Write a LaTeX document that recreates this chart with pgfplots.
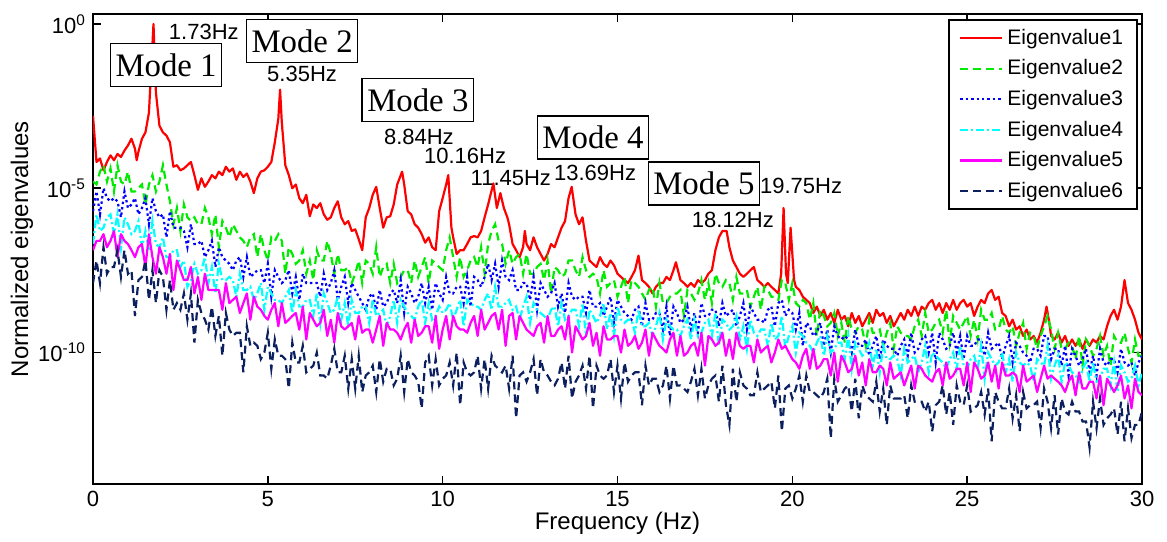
\documentclass[border=0pt]{standalone}
\usepackage{fontspec}
\setmainfont{Liberation Sans}
\newfontfamily\modefont{Liberation Serif}
\usepackage{pgfplots}
\pgfplotsset{compat=1.18}
\usepackage{pgfplotstable}

\definecolor{evred}{RGB}{255,0,0}
\definecolor{evgreen}{RGB}{0,235,0}
\definecolor{evblue}{RGB}{0,0,255}
\definecolor{evcyan}{RGB}{0,255,255}
\definecolor{evmagenta}{RGB}{255,0,255}
\definecolor{evnavy}{RGB}{12,32,96}

% first eigenvalue spectrum
\pgfplotstableread{
f e1
0.0 1.6e-3
0.1 6.3e-5
0.2 8e-5
0.3 3.5e-5
0.4 6.3e-5
0.5 1e-4
0.6 7.1e-5
0.7 1.1e-4
0.8 8.9e-5
0.9 1.4e-4
1.0 2e-4
1.1 3.2e-4
1.2 1.6e-4
1.25 7.1e-5
1.3 1.3e-4
1.4 3.2e-4
1.5 5e-4
1.6 2e-3
1.73 1
1.8 8e-3
1.9 8e-4
2.0 5e-4
2.1 4e-4
2.2 2.5e-4
2.3 4.5e-5
2.4 5e-5
2.5 3.5e-5
2.6 4e-5
2.7 5e-5
2.8 6.3e-5
2.9 2.5e-5
3.0 8.9e-6
3.1 2e-5
3.2 1.1e-5
3.3 1.6e-5
3.4 2.5e-5
3.5 2e-5
3.6 3.2e-5
3.7 2.5e-5
3.8 4.5e-5
3.9 3.2e-5
4.0 4e-5
4.1 1.8e-5
4.2 3.2e-5
4.3 2.2e-5
4.4 2.8e-5
4.5 1.6e-5
4.6 7.1e-6
4.7 2e-5
4.8 3.2e-5
4.9 3.5e-5
5.0 4.5e-5
5.1 6.3e-5
5.2 2.5e-4
5.3 1.3e-3
5.35 1e-2
5.4 1e-3
5.5 5e-5
5.6 2.5e-5
5.7 1e-5
5.8 1.3e-5
5.9 5e-6
6.0 3.5e-6
6.1 6.3e-6
6.2 1.4e-6
6.3 3.2e-6
6.4 2.5e-6
6.5 3.5e-6
6.6 1.6e-6
6.7 1.1e-6
6.8 1.3e-6
6.9 2.5e-6
7.0 4e-6
7.1 1.3e-6
7.2 8e-7
7.3 1e-6
7.4 5e-7
7.5 5.6e-7
7.6 2.8e-7
7.7 1.3e-7
7.8 1.3e-6
7.9 2.5e-6
8.0 6.3e-6
8.1 1.1e-5
8.2 2.5e-6
8.3 6.3e-7
8.4 1.3e-6
8.5 1.4e-6
8.6 3.2e-6
8.7 1.3e-5
8.84 3.2e-5
8.9 1.3e-5
9.0 2e-6
9.1 1.6e-6
9.2 8e-7
9.3 6.3e-7
9.4 4e-7
9.5 2.2e-7
9.6 3.2e-7
9.7 1.6e-7
9.8 1.3e-7
9.9 2e-6
10.0 5e-6
10.1 1.3e-5
10.16 2.5e-5
10.25 6.3e-7
10.3 3.2e-7
10.4 1e-7
10.5 1.3e-7
10.6 1.3e-7
10.7 2e-7
10.8 3.2e-7
10.9 3.5e-7
11.0 3.2e-7
11.1 5e-7
11.2 1.3e-6
11.3 3.2e-6
11.45 1.4e-5
11.55 2.5e-6
11.65 7.1e-6
11.75 2.5e-6
11.85 1.3e-6
11.9 8e-7
12.0 2e-7
12.1 1.3e-7
12.2 8e-8
12.3 1.6e-7
12.35 5e-7
12.4 2e-7
12.5 1.3e-7
12.6 3.2e-7
12.7 1.6e-7
12.8 1e-7
12.9 6.3e-8
13.0 1e-7
13.1 2e-7
13.2 1.6e-7
13.3 3.2e-7
13.4 6.3e-7
13.5 1e-6
13.6 5e-6
13.69 1.1e-5
13.8 1.6e-6
13.9 8e-7
14.0 1.3e-6
14.1 2.5e-7
14.2 6.3e-8
14.3 5e-8
14.4 4e-8
14.5 8e-8
14.6 5e-8
14.7 4e-8
14.8 6.3e-8
14.9 4.5e-8
15.0 2.5e-8
15.1 2e-8
15.2 1.6e-8
15.3 1.3e-8
15.4 2e-8
15.5 3.2e-8
15.6 8.9e-8
15.7 1.6e-8
15.8 1.3e-8
15.9 1e-8
16.0 6.3e-9
16.1 1e-8
16.2 1.3e-8
16.3 1.3e-8
16.4 2e-8
16.5 1.6e-8
16.6 3.2e-8
16.67 5.6e-8
16.8 1.6e-8
16.9 1.3e-8
17.0 1e-8
17.1 1.3e-8
17.2 1e-8
17.3 1.6e-8
17.4 1.3e-8
17.5 1.6e-8
17.6 2.5e-8
17.7 3.2e-8
17.8 1.3e-7
17.9 3.2e-7
18.0 5e-7
18.12 5e-7
18.2 1.6e-7
18.3 6.3e-8
18.4 4e-8
18.5 2.5e-8
18.6 2e-8
18.7 2.5e-8
18.8 3.2e-8
18.9 4e-8
19.0 1.6e-8
19.1 1.3e-8
19.2 1e-8
19.3 1.3e-8
19.4 1e-8
19.5 8e-9
19.6 6.3e-9
19.68 2.5e-8
19.75 2.5e-6
19.82 2.5e-8
19.87 1.3e-8
19.95 6.3e-7
20.05 1.6e-8
20.1 1e-8
20.2 8e-9
20.3 5e-9
20.4 4e-9
20.5 3.2e-9
20.6 1.6e-9
20.7 2.5e-9
20.8 1.3e-9
20.9 2e-9
21.0 1e-9
21.1 1.6e-9
21.2 8e-10
21.3 2e-9
21.4 1e-9
21.5 1.3e-9
21.6 6.3e-10
21.7 1.6e-9
21.8 8e-10
21.9 1.3e-9
22.0 6.3e-10
22.1 1e-9
22.2 1.6e-9
22.3 8e-10
22.4 2e-9
22.5 1.3e-9
22.6 1.6e-9
22.7 8e-10
22.8 1.3e-9
22.9 6.3e-10
23.0 1e-9
23.1 1.6e-9
23.2 1e-9
23.3 2e-9
23.4 1.3e-9
23.5 2.5e-9
23.6 1.3e-9
23.7 2.5e-9
23.8 2e-9
23.9 3.2e-9
24.0 4e-9
24.1 2e-9
24.2 3.2e-9
24.3 1.6e-9
24.4 3.2e-9
24.5 2e-9
24.6 4e-9
24.7 2e-9
24.8 3.2e-9
24.9 4e-9
25.0 2.5e-9
25.1 3.2e-9
25.2 1.3e-9
25.3 2.5e-9
25.4 4e-9
25.5 3.2e-9
25.6 6.3e-9
25.7 8e-9
25.8 4e-9
25.9 5e-9
26.0 1.6e-9
26.1 1.3e-9
26.2 6.3e-10
26.3 1e-9
26.4 5e-10
26.5 6.3e-10
26.6 3.2e-10
26.7 5e-10
26.8 2.5e-10
26.9 3.2e-10
27.0 2e-10
27.1 4e-10
27.2 1e-9
27.27 2.5e-9
27.35 8e-10
27.4 3.2e-10
27.5 2.5e-10
27.6 4e-10
27.7 2e-10
27.8 3.2e-10
27.9 1.6e-10
28.0 2.5e-10
28.1 1.6e-10
28.2 2.5e-10
28.3 1.3e-10
28.4 2.5e-10
28.5 1.6e-10
28.6 2.5e-10
28.7 2e-10
28.8 3.2e-10
28.9 2.5e-10
29.0 6.3e-10
29.1 1.3e-9
29.2 2e-9
29.3 1e-9
29.4 2.5e-9
29.5 1.6e-8
29.6 3.2e-9
29.7 2e-9
29.8 1e-9
29.9 4e-10
30.0 2.5e-10
}\firsttable

% eigenvalues 2 to 6
\pgfplotstableread{
f e2 e3 e4 e5 e6
0.0 1.6e-5 2e-6 2e-7 1.3e-7 1.3e-8
0.1 1.3e-5 8e-6 1.6e-6 2.5e-7 6.3e-8
0.2 3.2e-5 1.6e-6 5e-7 2.5e-7 1.3e-8
0.3 5e-5 1e-5 6.3e-7 4e-7 1.6e-7
0.4 1.6e-5 5e-6 1.3e-6 1.6e-7 2.5e-8
0.5 4e-5 4e-6 1.6e-6 2.5e-7 4e-8
0.6 8e-6 5e-6 4e-7 5e-7 4e-8
0.7 5e-5 4e-6 1.6e-6 8e-8 1.3e-7
0.8 1.6e-5 1.3e-6 1.6e-7 4e-7 2e-8
0.9 1.3e-5 8e-6 1.3e-6 2.5e-7 1.3e-7
1.0 3.2e-5 2.5e-6 8e-7 2e-7 2.5e-8
1.1 8e-6 3.2e-6 4e-7 1.3e-7 3.2e-8
1.2 8e-6 5e-6 5e-7 8e-8 1.3e-9
1.3 1e-5 1.6e-6 1e-6 1.6e-7 1.6e-8
1.4 1.3e-5 2.5e-6 1.6e-7 2e-7 2e-8
1.5 3.2e-6 5e-6 5e-7 4e-8 6.3e-8
1.6 1.3e-5 8e-7 1.3e-7 4e-7 4e-9
1.7 2.5e-5 5e-6 1e-6 8e-8 3.2e-8
1.8 8e-6 2e-6 2e-7 2.5e-8 3.2e-9
1.9 1.6e-5 1.3e-6 1.6e-7 1.6e-7 3.2e-8
2.0 5e-5 1.6e-6 3.2e-7 8e-8 2e-8
2.1 1.3e-5 3.2e-7 8e-8 2.5e-8 2e-9
2.2 4e-6 2e-6 8e-8 1e-7 1.6e-8
2.3 8e-7 6.3e-7 1.3e-7 8e-9 2e-9
2.4 2.5e-6 6.3e-7 1.3e-7 6.3e-8 3.2e-9
2.5 5e-7 6.3e-7 4e-8 3.2e-8 2e-9
2.6 3.2e-6 5e-7 6.3e-8 1.6e-8 6.3e-9
2.7 1.3e-6 1.6e-7 1e-8 1.6e-8 1e-9
2.8 1e-6 8e-7 1.6e-8 4e-8 6.3e-9
2.9 1.3e-6 2e-7 5e-8 6.3e-9 2e-10
3.0 8e-7 2e-7 2.5e-8 2e-8 4e-9
3.1 8e-7 2.5e-7 3.2e-8 4e-9 1.6e-9
3.2 2.5e-6 8e-8 8e-8 2.5e-8 1e-9
3.3 1.3e-6 1.3e-7 1.3e-8 8e-9 5e-10
3.4 4e-7 2.5e-7 4e-8 8e-9 2.5e-9
3.5 1.6e-6 4e-8 6.3e-9 8e-9 3.2e-10
3.6 1.6e-7 1.6e-7 5e-8 8e-9 1.3e-9
3.7 1e-6 8e-8 1.6e-8 2e-9 8e-11
3.8 6.3e-7 6.3e-8 1.6e-8 1.3e-8 1.6e-9
3.9 3.2e-7 5e-8 2e-8 3.2e-9 5e-10
4.0 8e-7 3.2e-8 1.6e-8 4e-9 3.2e-10
4.1 5e-7 6.3e-8 5e-9 5e-9 4e-10
4.2 3.2e-7 8e-8 2.5e-8 1.6e-9 4e-10
4.3 2.5e-7 2e-8 8e-9 3.2e-9 2.5e-11
4.4 1.6e-7 8e-8 8e-9 6.3e-9 6.3e-10
4.5 3.2e-7 2e-8 1e-8 1e-9 1.6e-10
4.6 4e-7 2.5e-8 4e-9 5e-9 2e-10
4.7 8e-8 3.2e-8 6.3e-9 2.5e-9 1.6e-10
4.8 4e-7 3.2e-8 1.3e-8 2e-9 6.3e-11
4.9 1.3e-7 1.3e-8 2e-9 1.3e-9 1e-10
5.0 6.3e-8 5e-8 1e-8 1e-9 4e-10
5.1 3.2e-7 5e-9 6.3e-9 2e-9 3.2e-11
5.2 2.5e-7 3.2e-8 4e-9 3.2e-9 2.5e-10
5.3 4e-7 2e-8 4e-9 6.3e-10 8e-11
5.4 2.5e-7 1.3e-8 3.2e-9 3.2e-9 8e-11
5.5 2.5e-8 1.6e-8 5e-9 8e-10 6.3e-11
5.6 1.6e-7 3.2e-8 8e-9 1e-9 8e-12
5.7 1e-7 6.3e-9 1.6e-9 1.3e-9 2e-10
5.8 5e-8 2e-8 8e-9 1.6e-9 5e-11
5.9 6.3e-8 4e-9 2.5e-9 5e-10 5e-11
6.0 1.3e-7 2.5e-8 2.5e-9 2.5e-9 1.6e-10
6.1 2.5e-8 1.3e-8 4e-9 2.5e-10 2.5e-11
6.2 6.3e-8 1.3e-8 4e-9 1.6e-9 3.2e-11
6.3 1.6e-8 1.3e-8 1.3e-9 1e-9 4e-11
6.4 1.3e-7 1.3e-8 6.3e-9 6.3e-10 1e-10
6.5 6.3e-8 5e-9 8e-10 8e-10 2e-11
6.6 6.3e-8 2.5e-8 6.3e-9 2e-9 2e-11
6.7 2.5e-7 8e-9 3.2e-9 3.2e-10 1.6e-11
6.8 1e-7 1.3e-8 1.6e-9 1e-9 4e-11
6.9 2.5e-8 3.2e-8 2e-9 2e-10 1.3e-10
7.0 1e-7 4e-9 5e-9 1.6e-9 2.5e-11
7.1 3.2e-8 1e-8 1e-9 6.3e-10 2.5e-11
7.2 3.2e-8 2e-8 3.2e-9 5e-10 8e-11
7.3 4e-8 3.2e-9 6.3e-10 6.3e-10 8e-12
7.4 1.3e-8 1.3e-8 4e-9 8e-10 6.3e-11
7.5 2.5e-8 8e-9 1.6e-9 2.5e-10 8e-12
7.6 6.3e-8 5e-9 1.6e-9 1.3e-9 8e-11
7.7 1.3e-8 3.2e-9 2.5e-9 4e-10 6.3e-12
7.8 6.3e-8 2e-9 2.5e-9 5e-10 2e-11
7.9 5e-8 5e-9 8e-10 5e-10 2.5e-11
8.0 2.5e-8 6.3e-9 4e-9 2e-10 4e-11
8.1 1.6e-7 2e-9 1.3e-9 5e-10 6.3e-12
8.2 2e-8 8e-9 1.6e-9 1.3e-9 6.3e-11
8.3 4e-8 2.5e-9 2e-9 1.6e-10 1.3e-11
8.4 5e-8 3.2e-9 6.3e-10 8e-10 3.2e-11
8.5 1.3e-8 6.3e-9 1.3e-9 5e-10 3.2e-11
8.6 5e-8 8e-9 4e-9 5e-10 1e-11
8.7 1.3e-8 3.2e-9 8e-10 4e-10 1.6e-11
8.8 2e-8 1.6e-8 4e-9 2.5e-10 8e-11
8.9 3.2e-8 1.6e-9 2.5e-9 5e-10 6.3e-12
9.0 3.2e-8 1e-8 1.6e-9 8e-10 6.3e-11
9.1 1.3e-8 6.3e-9 1.3e-9 2e-10 2.5e-11
9.2 6.3e-8 3.2e-9 1e-9 1e-9 2e-11
9.3 2e-8 5e-9 2.5e-9 3.2e-10 1.3e-11
9.4 4e-8 1.3e-8 4e-9 4e-10 2e-12
9.5 8e-8 3.2e-9 8e-10 6.3e-10 5e-11
9.6 1.3e-8 1e-8 3.2e-9 6.3e-10 8e-11
9.7 6.3e-8 2e-9 1e-9 2e-10 1e-11
9.8 5e-8 1.3e-8 1.3e-9 1.3e-9 6.3e-11
9.9 4e-8 6.3e-9 2.5e-9 1.3e-10 1e-11
10.0 3.2e-8 4e-9 1.6e-9 5e-10 1.6e-11
10.1 1.3e-7 2e-8 2e-9 1.3e-9 2e-11
10.2 3.2e-7 6.3e-9 3.2e-9 2.5e-10 5e-11
10.3 8e-8 6.3e-9 1e-9 1.3e-9 1e-11
10.4 2e-8 1e-8 2e-9 6.3e-10 1e-10
10.5 8e-8 1e-8 4e-9 5e-10 2.5e-12
10.6 2e-8 3.2e-9 6.3e-10 5e-10 5e-11
10.7 3.2e-8 2e-8 4e-9 4e-10 2.5e-11
10.8 6.3e-8 2.5e-9 3.2e-9 8e-10 2e-11
10.9 8e-8 2e-8 2.5e-9 1.3e-9 2.5e-11
11.0 4e-8 1.6e-8 2.5e-9 3.2e-10 8e-11
11.1 1.6e-7 1e-8 2e-9 2e-9 8e-12
11.2 2.5e-8 2e-8 4e-9 5e-10 6.3e-11
11.3 2e-7 5e-8 6.3e-9 8e-10 8e-12
11.4 5e-7 1.6e-8 2e-9 1.3e-9 8e-11
11.5 8e-7 5e-8 1e-8 1.6e-9 4e-11
11.6 2.5e-7 1e-8 2.5e-9 5e-10 3.2e-11
11.7 2e-7 6.3e-8 2.5e-9 2e-9 2.5e-11
11.8 5e-8 2e-8 3.2e-9 1.6e-10 4e-11
11.9 1.3e-7 1.6e-8 4e-9 1.3e-9 8e-12
12.0 5e-8 3.2e-8 2e-9 1.6e-9 8e-11
12.1 8e-8 8e-9 2.5e-9 2.5e-10 1e-12
12.2 1e-7 8e-9 1e-9 1.3e-9 2e-11
12.3 2.5e-8 1.3e-8 2.5e-9 8e-10 2.5e-11
12.4 1e-7 1.3e-8 5e-9 5e-10 1.3e-11
12.5 2.5e-8 4e-9 8e-10 4e-10 2.5e-11
12.6 2.5e-8 2e-8 3.2e-9 3.2e-10 6.3e-11
12.7 4e-8 2e-9 2e-9 6.3e-10 5e-12
12.8 5e-8 1.3e-8 1.6e-9 8e-10 6.3e-11
12.9 1.6e-8 8e-9 1.3e-9 2e-10 2.5e-11
13.0 6.3e-8 5e-9 1e-9 1.3e-9 2e-11
13.1 6.3e-9 6.3e-9 2e-9 3.2e-10 1.3e-11
13.2 4e-8 1.3e-8 2.5e-9 3.2e-10 1e-11
13.3 3.2e-8 2.5e-9 6.3e-10 5e-10 1.6e-11
13.4 2e-8 6.3e-9 3.2e-9 6.3e-10 5e-11
13.5 2.5e-8 1.6e-9 1e-9 2.5e-10 8e-12
13.6 6.3e-8 1.3e-8 1.3e-9 1.3e-9 8e-11
13.7 6.3e-8 5e-9 2e-9 1e-10 4e-12
13.8 3.2e-8 4e-9 2e-9 6.3e-10 1.3e-11
13.9 2e-8 5e-9 6.3e-10 4e-10 2e-11
14.0 8e-8 5e-9 3.2e-9 2.5e-10 4e-11
14.1 3.2e-8 1.6e-9 3.2e-10 3.2e-10 8e-12
14.2 2e-8 8e-9 2e-9 8e-10 8e-11
14.3 2.5e-8 2.5e-9 1.3e-9 1.6e-10 2e-12
14.4 2e-8 2.5e-9 8e-10 4e-10 4e-11
14.5 6.3e-9 3.2e-9 1.3e-9 8e-11 2e-11
14.6 3.2e-8 1.3e-9 3.2e-9 6.3e-10 1.6e-11
14.7 1e-8 2.5e-9 5e-10 2.5e-10 2e-11
14.8 1.3e-8 5e-9 1.6e-9 2.5e-10 6.3e-11
14.9 1.6e-8 8e-10 3.2e-10 3.2e-10 6.3e-12
15.0 5e-9 4e-9 2.5e-9 3.2e-10 4e-11
15.1 1e-8 2.5e-9 1e-9 1e-10 4e-12
15.2 2e-8 1.6e-9 8e-10 5e-10 5e-11
15.3 3.2e-9 1.3e-9 1e-9 1.6e-10 1.3e-11
15.4 1.6e-8 1e-9 1e-9 2e-10 2e-11
15.5 1.3e-8 2e-9 4e-10 3.2e-10 2.5e-11
15.6 1e-8 2.5e-9 2e-9 1.3e-10 2.5e-11
15.7 6.3e-9 6.3e-10 6.3e-10 2e-10 2.5e-12
15.8 4e-9 3.2e-9 6.3e-10 5e-10 4e-11
15.9 8e-9 1e-9 8e-10 8e-11 1e-11
16.0 1e-8 1e-9 3.2e-10 4e-10 1.6e-11
16.1 2.5e-9 1.6e-9 6.3e-10 2.5e-10 1.6e-11
16.2 1.3e-8 1.6e-9 1.6e-9 1.6e-10 6.3e-12
16.3 3.2e-9 5e-10 2.5e-10 1.3e-10 1e-11
16.4 3.2e-9 2.5e-9 1e-9 1e-10 4e-11
16.5 5e-9 3.2e-10 6.3e-10 2.5e-10 4e-12
16.6 6.3e-9 2.5e-9 5e-10 4e-10 4e-11
16.7 6.3e-9 1.6e-9 5e-10 8e-11 1e-11
16.8 8e-9 8e-10 3.2e-10 3.2e-10 1e-11
16.9 1.3e-9 1e-9 6.3e-10 8e-11 8e-12
17.0 8e-9 2.5e-9 1e-9 1e-10 6.3e-12
17.1 6.3e-9 5e-10 2.5e-10 1.6e-10 1.3e-11
17.2 4e-9 1.6e-9 1e-9 2e-10 3.2e-11
17.3 6.3e-9 4e-10 3.2e-10 8e-11 5e-12
17.4 1.6e-8 3.2e-9 4e-10 4e-10 3.2e-11
17.5 4e-9 1.3e-9 8e-10 4e-11 4e-12
17.6 1.3e-8 1.3e-9 1e-9 3.2e-10 1e-11
17.7 3.2e-9 2e-9 3.2e-10 2.5e-10 1.6e-11
17.8 2.5e-8 2e-9 1.6e-9 1.6e-10 2e-11
17.9 1.3e-8 6.3e-10 1.6e-10 2e-10 3.2e-12
18.0 1e-8 3.2e-9 1e-9 4e-10 4e-11
18.1 1.6e-8 1.3e-9 8e-10 8e-11 2.5e-12
18.2 1.3e-8 1.6e-9 5e-10 2.5e-10 6.3e-13
18.3 4e-9 2e-9 6.3e-10 6.3e-11 3.2e-11
18.4 2e-8 6.3e-10 1.3e-9 4e-10 3.2e-12
18.5 6.3e-9 1.3e-9 2.5e-10 1.6e-10 2.5e-11
18.6 6.3e-9 3.2e-9 6.3e-10 1.3e-10 1e-11
18.7 8e-9 5e-10 1.3e-10 1.6e-10 8e-12
18.8 2.5e-9 2.5e-9 1e-9 1.6e-10 5e-12
18.9 5e-9 1.6e-9 4e-10 5e-11 5e-12
19.0 1e-8 1e-9 3.2e-10 2.5e-10 2.5e-11
19.1 2e-9 1e-9 5e-10 1e-10 6.3e-12
19.2 1e-8 8e-10 5e-10 1.3e-10 8e-12
19.3 8e-9 2e-9 1.6e-10 1.6e-10 1e-11
19.4 5e-9 2.5e-9 8e-10 5e-11 1.3e-11
19.5 5e-9 6.3e-10 2.5e-10 1e-10 2e-12
19.6 4e-9 3.2e-9 3.2e-10 2.5e-10 2e-11
19.7 1.6e-8 4e-9 1.3e-9 1.3e-10 4e-13
19.8 1.3e-8 1.3e-9 1.3e-10 1.6e-10 8e-12
19.9 4e-9 2e-9 3.2e-10 1e-10 1e-11
20.0 1.3e-8 1.6e-9 6.3e-10 6.3e-11 4e-12
20.1 3.2e-9 5e-10 1e-10 5e-11 8e-12
20.2 2.5e-9 1.6e-9 4e-10 3.2e-11 2e-11
20.3 4e-9 1.6e-10 3.2e-10 8e-11 3.2e-12
20.4 3.2e-9 8e-10 2e-10 1.3e-10 2e-11
20.5 1e-9 6.3e-10 1.6e-10 3.2e-11 6.3e-12
20.6 3.2e-9 3.2e-10 1e-10 1.3e-10 6.3e-12
20.7 3.2e-10 4e-10 2e-10 3.2e-11 5e-12
20.8 2e-9 8e-10 3.2e-10 4e-11 4e-12
20.9 1.3e-9 1.6e-10 8e-11 6.3e-11 6.3e-12
21.0 6.3e-10 5e-10 3.2e-10 6.3e-11 1.6e-11
21.1 8e-10 1e-10 1e-10 2e-11 2.5e-13
21.2 1.6e-9 6.3e-10 1.3e-10 1e-10 1.6e-11
21.3 3.2e-10 3.2e-10 2e-10 1.3e-11 3.2e-12
21.4 8e-10 2.5e-10 2e-10 8e-11 5e-12
21.5 2e-10 3.2e-10 6.3e-11 5e-11 8e-12
21.6 1.3e-9 2.5e-10 3.2e-10 2.5e-11 1e-11
21.7 5e-10 1e-10 3.2e-11 3.2e-11 1.6e-12
21.8 4e-10 5e-10 2e-10 8e-11 1.6e-11
21.9 6.3e-10 1.6e-10 1.3e-10 2e-11 1e-12
22.0 5e-10 1.6e-10 8e-11 5e-11 1e-11
22.1 1.6e-10 2.5e-10 1e-10 1e-11 5e-12
22.2 1e-9 8e-11 2e-10 6.3e-11 4e-12
22.3 4e-10 1.6e-10 4e-11 2.5e-11 3.2e-12
22.4 4e-10 3.2e-10 1.3e-10 2.5e-11 1.3e-11
22.5 5e-10 6.3e-11 2.5e-11 4e-11 1.6e-12
22.6 1.6e-10 2.5e-10 1.6e-10 3.2e-11 8e-12
22.7 4e-10 1.6e-10 6.3e-11 1e-11 6.3e-13
22.8 8e-10 1.3e-10 6.3e-11 5e-11 1e-11
22.9 1.3e-10 1.3e-10 8e-11 1.6e-11 4e-12
23.0 6.3e-10 8e-11 6.3e-11 2e-11 4e-12
23.1 4e-10 1.6e-10 2e-11 2.5e-11 4e-12
23.2 3.2e-10 2.5e-10 1.3e-10 1e-11 5e-12
23.3 3.2e-10 8e-11 5e-11 2e-11 1e-12
23.4 2.5e-10 4e-10 6.3e-11 4e-11 1e-11
23.5 6.3e-10 1e-10 8e-11 8e-12 3.2e-12
23.6 1e-9 1.3e-10 2.5e-11 4e-11 3.2e-12
23.7 3.2e-10 2.5e-10 5e-11 3.2e-11 3.2e-12
23.8 1.6e-9 3.2e-10 1.6e-10 2e-11 1.6e-12
23.9 4e-10 1e-10 2.5e-11 1.6e-11 3.2e-12
24.0 5e-10 4e-10 1e-10 1.3e-11 4e-13
24.1 8e-10 5e-11 8e-11 2.5e-11 2.5e-12
24.2 1e-9 4e-10 6.3e-11 3.2e-11 3.2e-12
24.3 4e-10 2.5e-10 5e-11 1e-11 1e-11
24.4 2e-9 1.3e-10 3.2e-11 5e-11 1.3e-12
24.5 2e-10 1.6e-10 6.3e-11 1.6e-11 6.3e-12
24.6 1.3e-9 4e-10 1e-10 2e-11 6.3e-13
24.7 8e-10 1e-10 3.2e-11 3.2e-11 1e-11
24.8 5e-10 3.2e-10 1.6e-10 3.2e-11 3.2e-12
24.9 8e-10 6.3e-11 4e-11 1e-11 2.5e-12
25.0 1.3e-9 3.2e-10 3.2e-11 5e-11 1e-11
25.1 3.2e-10 1.6e-10 6.3e-11 6.3e-12 1.6e-12
25.2 1e-9 1.6e-10 8e-11 5e-11 2e-12
25.3 2.5e-10 2.5e-10 3.2e-11 3.2e-11 2.5e-12
25.4 2e-9 2.5e-10 1.6e-10 1.6e-11 6.3e-12
25.5 1e-9 8e-11 1.6e-11 2e-11 1.3e-12
25.6 1e-9 4e-10 1e-10 5e-11 8e-12
25.7 1.6e-9 1.3e-10 6.3e-11 1.3e-11 2e-13
25.8 5e-10 1.6e-10 4e-11 4e-11 6.3e-12
25.9 5e-10 2e-10 5e-11 8e-12 3.2e-12
26.0 1.3e-9 6.3e-11 1e-10 5e-11 2e-12
26.1 5e-10 1.6e-10 2.5e-11 2e-11 2e-12
26.2 4e-10 3.2e-10 6.3e-11 2e-11 8e-12
26.3 6.3e-10 5e-11 1.3e-11 2.5e-11 1e-12
26.4 1.6e-10 2e-10 1e-10 2e-11 5e-12
26.5 4e-10 1.6e-10 5e-11 6.3e-12 4e-13
26.6 8e-10 1e-10 4e-11 4e-11 6.3e-12
26.7 1.3e-10 8e-11 5e-11 1.3e-11 2e-12
26.8 4e-10 5e-11 4e-11 1.6e-11 2.5e-12
26.9 3.2e-10 1.3e-10 1.3e-11 2e-11 2.5e-12
27.0 1.3e-10 1.3e-10 6.3e-11 6.3e-12 3.2e-12
27.1 3.2e-10 8e-11 5e-11 1.6e-11 5e-13
27.2 6.3e-10 3.2e-10 4e-11 4e-11 8e-12
27.3 1.3e-9 3.2e-10 1.6e-10 1.6e-11 3.2e-12
27.4 5e-10 6.3e-11 1.6e-11 2e-11 5e-13
27.5 1.3e-10 1.3e-10 4e-11 1.6e-11 5e-12
27.6 4e-10 1.3e-10 8e-11 1.3e-11 3.2e-13
27.7 1.3e-10 4e-11 1.3e-11 1e-11 4e-12
27.8 1.3e-10 1.6e-10 5e-11 6.3e-12 1.6e-12
27.9 2e-10 2e-11 4e-11 1.3e-11 1.3e-12
28.0 1.6e-10 1.3e-10 2.5e-11 2e-11 3.2e-12
28.1 6.3e-11 8e-11 2e-11 5e-12 1.6e-12
28.2 3.2e-10 4e-11 1.3e-11 2.5e-11 1.6e-12
28.3 4e-11 6.3e-11 3.2e-11 8e-12 8e-13
28.4 2.5e-10 1.3e-10 5e-11 8e-12 8e-13
28.5 1.6e-10 2.5e-11 1.3e-11 1.3e-11 1.3e-13
28.6 8e-11 8e-11 5e-11 1.3e-11 3.2e-12
28.7 1.3e-10 2e-11 1.3e-11 4e-12 5e-13
28.8 3.2e-10 1.3e-10 1.6e-11 2e-11 4e-12
28.9 8e-11 5e-11 3.2e-11 2.5e-12 6.3e-13
29.0 1.6e-10 4e-11 3.2e-11 1.6e-11 1e-12
29.1 4e-11 6.3e-11 1e-11 1e-11 1.3e-12
29.2 3.2e-10 6.3e-11 5e-11 6.3e-12 2e-12
29.3 2e-10 2.5e-11 6.3e-12 1e-11 3.2e-13
29.4 2e-10 1.3e-10 4e-11 2e-11 3.2e-12
29.5 4e-10 5e-11 2.5e-11 4e-12 2e-13
29.6 1.3e-10 4e-11 1.3e-11 1e-11 2e-12
29.7 5e-11 5e-11 1.6e-11 2e-12 2.5e-13
29.8 2.5e-10 2e-11 4e-11 1.6e-11 6.3e-13
29.9 8e-11 5e-11 1e-11 6.3e-12 6.3e-13
30.0 8e-11 8e-11 2.5e-11 5e-12 1.6e-12
}\othertable

\begin{document}
\begin{tikzpicture}
\path[use as bounding box] (-46.5pt,-28.5pt) rectangle (537pt,242pt);
\begin{axis}[
  at={(0,0)}, anchor=south west,
  scale only axis, width=524.5pt, height=235pt,
  xmin=0, xmax=30, ymode=log, ymin=1e-14, ymax=2,
  xtick={0,5,...,30}, xticklabels={0,5,10,15,20,25,30},
  ytick={1,1e-5,1e-10},
  yticklabels={10\textsuperscript{0},10\textsuperscript{-5},10\textsuperscript{-10}},
  yminorticks=false, xminorticks=false,
  major tick length=4pt,
  tick style={black, line width=0.8pt},
  axis line style={black, line width=0.8pt},
  tick label style={font=\fontsize{11}{13}\selectfont},
  xlabel={Frequency (Hz)}, ylabel={Normalized eigenvalues},
  every axis x label/.style={at={(rel axis cs:0.5,0)}, yshift=-19.5pt, anchor=center,
    font=\fontsize{12}{14}\selectfont},
  every axis y label/.style={at={(rel axis cs:0,0.5)}, xshift=-35.5pt, rotate=90, anchor=center,
    font=\fontsize{12}{14}\selectfont},
  legend style={at={(rel axis cs:0.996,0.989)}, anchor=north east, draw=black,
    line width=0.8pt, fill=white, font=\fontsize{10.5}{12}\selectfont,
    row sep=2.2pt, inner xsep=5pt, inner ysep=2.5pt},
  legend cell align=left,
  legend image code/.code={\draw[#1] (0pt,0pt) -- (21pt,0pt);},
]
\addplot[evred, line width=1.1pt, line join=round] table[x=f, y=e1] {\firsttable};
\addlegendentry{Eigenvalue1}
\addplot[evgreen, line width=1.1pt, dash pattern=on 4pt off 2.5pt] table[x=f, y=e2] {\othertable};
\addlegendentry{Eigenvalue2}
\addplot[evblue, line width=1.1pt, dash pattern=on 1.2pt off 1.5pt] table[x=f, y=e3] {\othertable};
\addlegendentry{Eigenvalue3}
\addplot[evcyan, line width=1.1pt, dash pattern=on 4pt off 1.5pt on 1pt off 1.5pt] table[x=f, y=e4] {\othertable};
\addlegendentry{Eigenvalue4}
\addplot[evmagenta, line width=1.1pt, line join=round] table[x=f, y=e5] {\othertable};
\addlegendentry{Eigenvalue5}
\addplot[evnavy, line width=1.1pt, dash pattern=on 4pt off 2.5pt] table[x=f, y=e6] {\othertable};
\addlegendentry{Eigenvalue6}

% peak frequencies
\begin{scope}[every node/.style={font=\fontsize{11}{13}\selectfont, inner sep=0pt}]
\node at (axis cs:3.17,0.57) {1.73Hz};
\node at (axis cs:5.98,0.030) {5.35Hz};
\node at (axis cs:9.32,3.6e-4) {8.84Hz};
\node at (axis cs:10.64,9.5e-5) {10.16Hz};
\node at (axis cs:11.95,2e-5) {11.45Hz};
\node at (axis cs:14.36,2.9e-5) {13.69Hz};
\node at (axis cs:18.30,1.1e-6) {18.12Hz};
\node at (axis cs:20.25,1.2e-5) {19.75Hz};
\end{scope}

% mode labels
\begin{scope}[every node/.style={draw=black, line width=0.8pt, fill=white, inner xsep=2.5pt,
    inner ysep=0pt, minimum height=21.5pt, font=\modefont\fontsize{16.4}{18}\selectfont}]
\node at (axis cs:2.09,0.056) {Mode 1};
\node at (axis cs:5.98,0.30) {Mode 2};
\node at (axis cs:9.29,4.8e-3) {Mode 3};
\node at (axis cs:14.30,3.5e-4) {Mode 4};
\node at (axis cs:17.47,1.4e-5) {Mode 5};
\end{scope}
\end{axis}
\end{tikzpicture}
\end{document}
